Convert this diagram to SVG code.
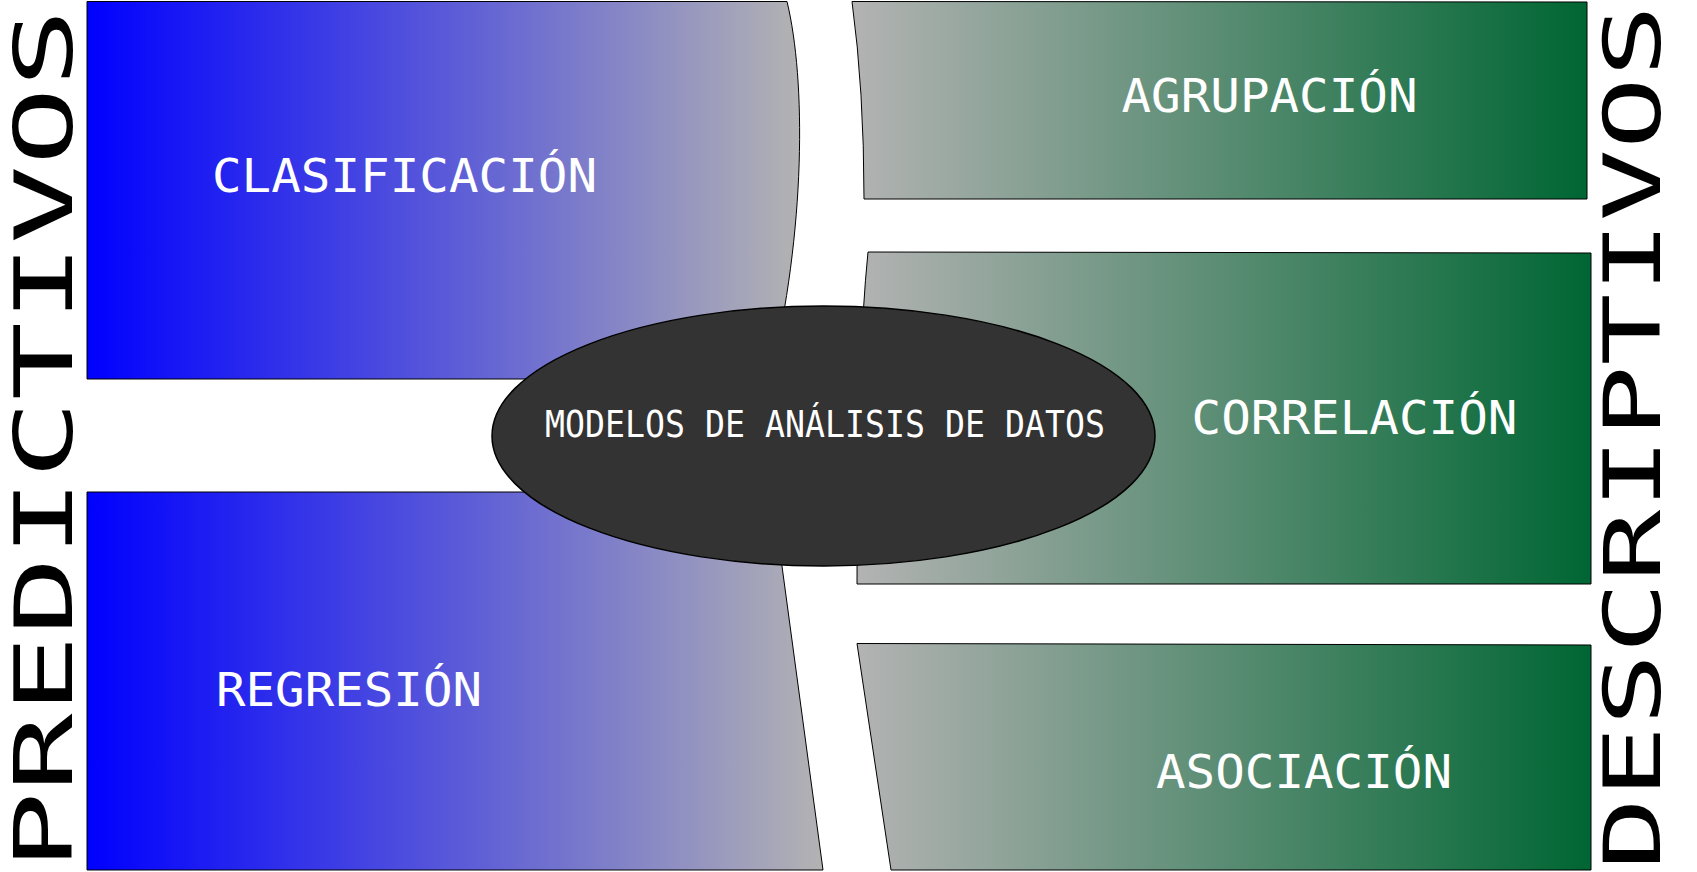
<svg xmlns="http://www.w3.org/2000/svg" width="1697" height="872" viewBox="0 0 1697 872">
  <defs>
    <linearGradient id="gradBlue" x1="0" y1="0" x2="1" y2="0">
      <stop offset="0" stop-color="#0000ff"/>
      <stop offset="1" stop-color="#b3b3b3"/>
    </linearGradient>
    <linearGradient id="gradGreen" x1="0" y1="0" x2="1" y2="0">
      <stop offset="0" stop-color="#b3b3b3"/>
      <stop offset="1" stop-color="#006633"/>
    </linearGradient>
  </defs>
  <style>
    .panel { stroke: #000000; stroke-width: 1; }
    .blue { fill: url(#gradBlue); }
    .green { fill: url(#gradGreen); }
    .hub { fill: #333333; stroke: #000000; stroke-width: 1.5; }
    .label { font-family: "DejaVu Sans Mono", "Liberation Mono", monospace; fill: #ffffff; text-anchor: middle; }
    .side { font-family: "DejaVu Sans Mono", "Liberation Mono", monospace; fill: #000000; }
  </style>

  <rect width="1697" height="872" fill="#ffffff"/>

  <!-- side titles -->
  <text class="side" font-size="81" transform="translate(71.5,870) rotate(-90)" x="0" y="0" textLength="861" lengthAdjust="spacingAndGlyphs">PREDICTIVOS</text>
  <text class="side" font-size="78" transform="translate(1660,870) rotate(-90)" x="0" y="0" textLength="865" lengthAdjust="spacingAndGlyphs">DESCRIPTIVOS</text>

  <!-- predictive panels -->
  <g id="clasificacion">
    <path class="panel blue" d="M87,1.5 L787,1.5 C806,80 806,230 770,379 L87,379 Z"/>
    <text class="label" x="404.5" y="191.5" font-size="46" textLength="385" lengthAdjust="spacingAndGlyphs">CLASIFICACIÓN</text>
  </g>
  <g id="regresion">
    <path class="panel blue" d="M87,492 L772,492 L823,870 L87,870 Z"/>
    <text class="label" x="349" y="705.5" font-size="46" textLength="266" lengthAdjust="spacingAndGlyphs">REGRESIÓN</text>
  </g>

  <!-- descriptive panels -->
  <g id="agrupacion">
    <path class="panel green" d="M852,1.5 L1587,2 L1587,199 L864,199 Q864,90 852,1.5 Z"/>
    <text class="label" x="1269.5" y="111.5" font-size="46" textLength="296" lengthAdjust="spacingAndGlyphs">AGRUPACIÓN</text>
  </g>
  <g id="correlacion">
    <path class="panel green" d="M868,252 L1591,253 L1591,584 L857,584 Q857,360 868,252 Z"/>
    <text class="label" x="1354.5" y="434" font-size="46" textLength="326" lengthAdjust="spacingAndGlyphs">CORRELACIÓN</text>
  </g>
  <g id="asociacion">
    <path class="panel green" d="M857,643.5 L1591,645 L1591,870 L891,870 Z"/>
    <text class="label" x="1304" y="787.5" font-size="46" textLength="296" lengthAdjust="spacingAndGlyphs">ASOCIACIÓN</text>
  </g>

  <!-- central hub -->
  <g id="modelos">
    <ellipse class="hub" cx="823.5" cy="436" rx="331.5" ry="130"/>
    <text class="label" x="825" y="436.5" font-size="38" textLength="560" lengthAdjust="spacingAndGlyphs">MODELOS DE ANÁLISIS DE DATOS</text>
  </g>

  <g id="connectors"/>
</svg>
